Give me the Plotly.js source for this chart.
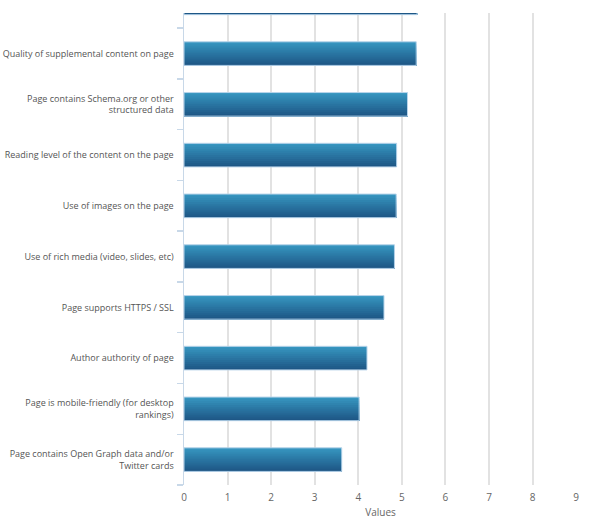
<!DOCTYPE html>
<html>
<head>
<meta charset="utf-8">
<script src="https://cdn.plot.ly/plotly-3.0.1.min.js"></script>
<style>html,body{margin:0;padding:0;background:#fff;}#chart{width:596px;height:525px;}</style>
</head>
<body>
<div id="chart"></div>
<script>
// Top-to-bottom order; the first entry is the bar cut off by the top edge of the picture
const categories = [
  " ",
  "Quality of supplemental content on page",
  "Page contains Schema.org or other<br>structured data",
  "Reading level of the content on the page",
  "Use of images on the page",
  "Use of rich media (video, slides, etc)",
  "Page supports HTTPS / SSL",
  "Author authority of page",
  "Page is mobile-friendly (for desktop<br>rankings)",
  "Page contains Open Graph data and/or<br>Twitter cards"
];
const values = [5.35, 5.33, 5.13, 4.88, 4.87, 4.83, 4.59, 4.20, 4.02, 3.62];
const xTicks = [0, 1, 2, 3, 4, 5, 6, 7, 8, 9];
const xTitle = "Values";

// vertical gradient made of nested bars: full-height light bar first,
// then progressively shorter, darker bars anchored at the bottom edge
const barW = 0.465;
const nStripes = 12;
const topRGB = [54, 149, 191], botRGB = [30, 87, 134];
const traces = [];
for (let k = 0; k < nStripes; k++) {
  const t = k / (nStripes - 1);               // 0 = top colour, 1 = bottom colour
  const c = topRGB.map((a, i) => Math.round(a + (botRGB[i] - a) * t));
  const h = barW * (nStripes - k) / nStripes;
  traces.push({
    type: 'bar', orientation: 'h',
    x: values, y: categories,
    width: h,
    offset: -barW / 2,
    marker: {color: 'rgb(' + c.join(',') + ')', line: {width: 0}},
    hoverinfo: 'skip', showlegend: false
  });
}
traces.push({
  type: 'bar', orientation: 'h',
  x: values, y: categories,
  width: barW, offset: -barW / 2,
  marker: {color: 'rgba(0,0,0,0)', line: {width: 1, color: '#b8d4ea'}},
  hovertemplate: '%{x}<extra></extra>', showlegend: false
});

const layout = {
  width: 596, height: 525,
  margin: {l: 184, r: 19, t: 13, b: 40, pad: 0},
  paper_bgcolor: '#ffffff', plot_bgcolor: '#ffffff',
  barmode: 'overlay',
  font: {family: 'Open Sans, sans-serif', size: 10, color: '#555555'},
  xaxis: {
    range: [0, 9.02], tickvals: xTicks, ticktext: xTicks.map(String),
    showgrid: true, gridcolor: '#e2e2e2', gridwidth: 2,
    zeroline: false, showline: false, ticks: '',
    ticklabelstandoff: 5,
    tickfont: {size: 10, color: '#666666'},
    title: {text: xTitle, font: {size: 10, color: '#666666'}, standoff: 5}
  },
  yaxis: {
    type: 'category', categoryorder: 'array',
    categoryarray: categories.slice().reverse(),
    range: [-0.5, 8.8],
    tickson: 'boundaries', ticks: 'outside', ticklen: 6, tickcolor: '#c8d8e8', tickwidth: 1.5,
    showline: true, linecolor: '#c8d8e8', linewidth: 1.5,
    showgrid: false, zeroline: false,
    ticklabelstandoff: 7,
    tickfont: {size: 9, color: '#555555'}
  }
};
Plotly.newPlot('chart', traces, layout, {displayModeBar: false, staticPlot: true});
</script>
</body>
</html>
